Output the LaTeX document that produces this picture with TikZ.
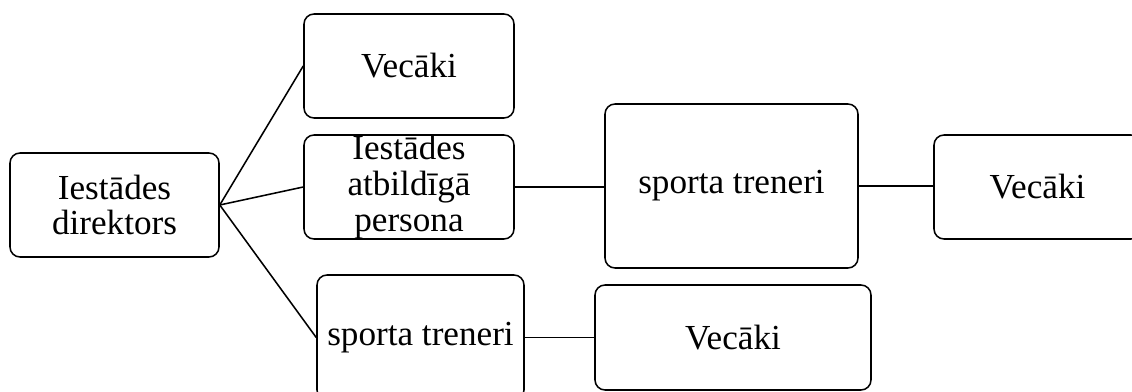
\documentclass[tikz,border=0pt]{standalone}
\usepackage{fontspec}
\setmainfont{Liberation Serif}
\tikzset{
  box/.style={draw, line width=1.1pt, rounded corners=0.25cm, align=center, inner sep=0pt,
    font=\fontsize{25}{25.5}\selectfont},
  link/.style={draw, line width=1.1pt}
}
\begin{document}
\begin{tikzpicture}[x=0.025cm,y=-0.025cm]
\path[use as bounding box, clip] (0,0) rectangle (1132,392);
\fill[white] (0,0) rectangle (1132,392);
\node[box, minimum width={209*0.025cm}, minimum height={104*0.025cm}] (dir) at (114.5,205) {Iestādes\\direktors};
\node[box, minimum width={210*0.025cm}, minimum height={104*0.025cm}] (vec1) at (409,66) {Vecāki};
\node[box, minimum width={210*0.025cm}, minimum height={104*0.025cm}] (atb) at (409,187) {Iestādes\\atbildīgā\\persona};
\node[box, minimum width={207*0.025cm}, minimum height={125*0.025cm}] (spb) at (420.5,337.5) {sporta treneri};
\node[box, minimum width={253*0.025cm}, minimum height={164*0.025cm}] (spm) at (731.5,186) {sporta treneri};
\node[box, minimum width={207*0.025cm}, minimum height={104*0.025cm}] (vec2) at (1037.5,187) {Vecāki};
\node[box, minimum width={276*0.025cm}, minimum height={105*0.025cm}] (vec3) at (733,337.5) {Vecāki};
\draw[link] (dir.east) -- (vec1.west);
\draw[link] (dir.east) -- (atb.west);
\draw[link] (dir.east) -- (spb.west);
\draw[link] (atb.east) -- (atb.east -| spm.west);
\draw[link] (spm.east) -- (spm.east -| vec2.west);
\draw[link] (spb.east) -- (vec3.west);
\end{tikzpicture}
\end{document}
